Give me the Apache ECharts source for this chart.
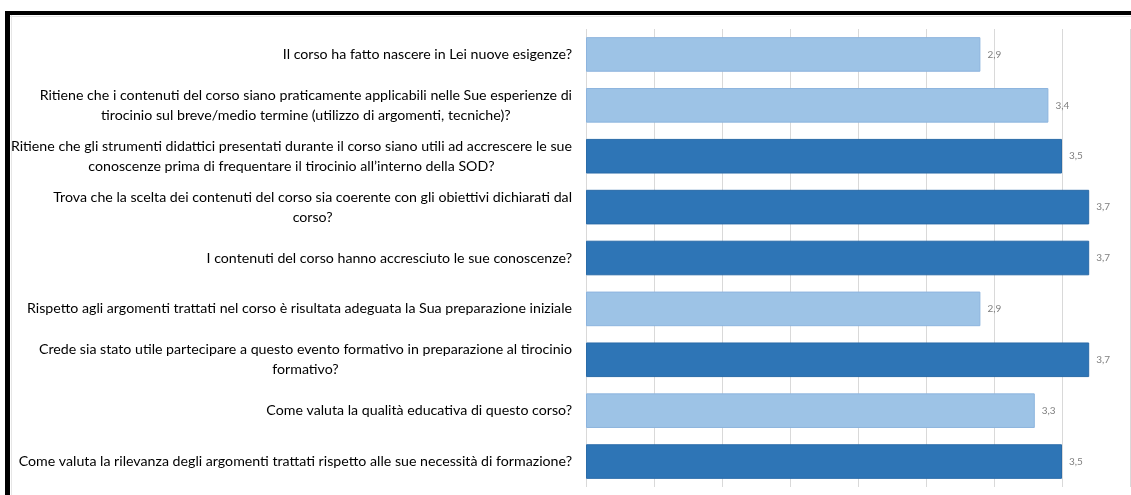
<!DOCTYPE html>
<html>
<head>
<meta charset="utf-8">
<script src="https://cdn.jsdelivr.net/npm/echarts@6/dist/echarts.min.js"></script>
<style>
html,body{margin:0;padding:0;background:#fff;}
#chart{width:1131px;height:495px;}
</style>
</head>
<body>
<div id="chart"></div>
<script>
const categories = [
  "Il corso ha fatto nascere in Lei nuove esigenze?",
  "Ritiene che i contenuti del corso siano praticamente applicabili nelle Sue esperienze di\ntirocinio sul breve/medio termine (utilizzo di argomenti, tecniche)?",
  "Ritiene che gli strumenti didattici presentati durante il corso siano utili ad accrescere le sue\nconoscenze prima di frequentare il tirocinio all\u2019interno della SOD?",
  "Trova che la scelta dei contenuti del corso sia coerente con gli obiettivi dichiarati dal\ncorso?",
  "I contenuti del corso hanno accresciuto le sue conoscenze?",
  "Rispetto agli argomenti trattati nel corso è risultata adeguata la Sua preparazione iniziale",
  "Crede sia stato utile partecipare a questo evento formativo in preparazione al tirocinio\nformativo?",
  "Come valuta la qualità educativa di questo corso?",
  "Come valuta la rilevanza degli argomenti trattati rispetto alle sue necessità di formazione?"
];
const values = [2.9, 3.4, 3.5, 3.7, 3.7, 2.9, 3.7, 3.3, 3.5];

const LIGHT = '#9DC3E6', LIGHT_BORDER = '#8DB4DE';
const DARK = '#2E75B6', DARK_BORDER = '#2A6BA8';

const chart = echarts.init(document.getElementById('chart'));
chart.setOption({
  animation: false,
  backgroundColor: '#fff',
  grid: {left: 586, right: 1, top: 29, bottom: 8, containLabel: false},
  xAxis: {
    type: 'value', min: 0, max: 4, interval: 0.5,
    axisLabel: {show: false}, axisLine: {show: false}, axisTick: {show: false},
    splitLine: {show: true, lineStyle: {color: '#D9D9D9', width: 1}}
  },
  yAxis: {
    type: 'category', inverse: true, data: categories,
    axisLine: {show: false}, axisTick: {show: false},
    axisLabel: {
      margin: 14, color: '#000', fontFamily: 'Lato', fontSize: 14.2, lineHeight: 20, align: 'right',
      formatter: v => v.split('\n').map(l => '{c|' + l + '}').join('\n'),
      rich: {c: {align: 'center', color: '#000', fontFamily: 'Lato', fontSize: 14.2, lineHeight: 20}}
    }
  },
  series: [{
    type: 'bar',
    barCategoryGap: '32%',
    data: values.map(v => ({
      value: v,
      itemStyle: v >= 3.5
        ? {color: DARK, borderColor: DARK_BORDER, borderWidth: 1}
        : {color: LIGHT, borderColor: LIGHT_BORDER, borderWidth: 1}
    })),
    label: {
      show: true, position: 'right', distance: 7,
      color: '#7F7F7F', fontFamily: 'Lato', fontSize: 10,
      formatter: p => String(p.value).replace('.', ',')
    }
  }],
  graphic: [
    {type: 'rect', shape: {x: 5, y: 11, width: 1126, height: 4}, style: {fill: '#000'}, z: 100},
    {type: 'rect', shape: {x: 5, y: 11, width: 5, height: 484}, style: {fill: '#000'}, z: 100},
    {type: 'rect', shape: {x: 10, y: 16, width: 1121, height: 1}, style: {fill: '#E6E6E6'}, z: 100},
    {type: 'rect', shape: {x: 11, y: 15, width: 1, height: 480}, style: {fill: '#E6E6E6'}, z: 100}
  ]
});
</script>
</body>
</html>
